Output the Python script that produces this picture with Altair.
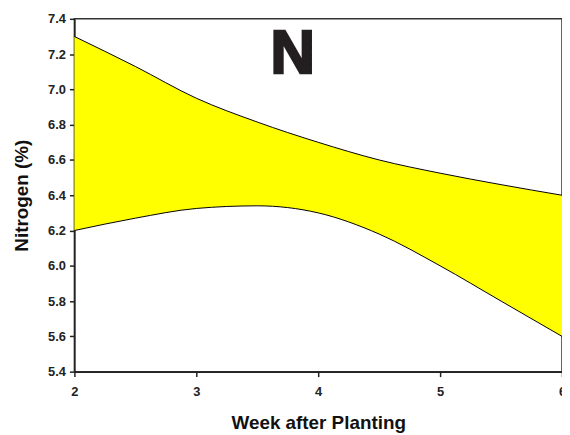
import altair as alt
import pandas as pd

weeks = [2, 2.5, 3, 3.5, 4, 4.5, 5, 5.5, 6]
n_upper = [7.30, 7.13, 6.95, 6.815, 6.70, 6.60, 6.525, 6.46, 6.40]
n_lower = [6.20, 6.27, 6.325, 6.34, 6.30, 6.18, 6.00, 5.80, 5.60]

label_text = ["N"]
label_x = [3.79]
label_y = [7.2]

df = pd.DataFrame({"week": weeks, "upper": n_upper, "lower": n_lower})
df_lab = pd.DataFrame({"week": label_x, "n": label_y, "t": label_text})

FONT = "Liberation Sans"

xscale = alt.Scale(domain=[2, 6], nice=False, zero=False)
yscale = alt.Scale(domain=[5.4, 7.4], nice=False, zero=False)
xaxis = alt.Axis(values=[2, 3, 4, 5, 6], format="d", title="Week after Planting",
                 grid=False, tickSize=5, labelPadding=9, titlePadding=15,
                 labelFlush=False, labelOverlap=False)
yaxis = alt.Axis(values=[5.4, 5.6, 5.8, 6.0, 6.2, 6.4, 6.6, 6.8, 7.0, 7.2, 7.4],
                 format=".1f", title="Nitrogen (%)", grid=False, tickSize=5,
                 labelPadding=4, titlePadding=16, labelFlush=False,
                 labelOverlap=False, tickCount=11)

area = alt.Chart(df).mark_area(color="#FFFF00", opacity=1, interpolate="monotone").encode(
    x=alt.X("week:Q", scale=xscale, axis=xaxis),
    y=alt.Y("upper:Q", scale=yscale, axis=yaxis),
    y2="lower:Q")
line_u = alt.Chart(df).mark_line(color="black", strokeWidth=1, interpolate="monotone").encode(
    x=alt.X("week:Q", scale=xscale, axis=xaxis),
    y=alt.Y("upper:Q", scale=yscale, axis=yaxis))
line_l = alt.Chart(df).mark_line(color="black", strokeWidth=1, interpolate="monotone").encode(
    x=alt.X("week:Q", scale=xscale, axis=xaxis),
    y=alt.Y("lower:Q", scale=yscale, axis=yaxis))
txt = alt.Chart(df_lab).mark_text(fontSize=62, fontWeight="bold", font=FONT, color="#231f20",
                                  stroke="#231f20", strokeWidth=2.5,
                                  baseline="middle", align="center").encode(
    x=alt.X("week:Q", scale=xscale, axis=xaxis),
    y=alt.Y("n:Q", scale=yscale, axis=yaxis),
    text="t:N")

chart = (area + line_u + line_l + txt).properties(
    width=492, height=356,
    autosize=alt.AutoSizeParams(type="none"),
    padding={"left": 67, "top": 9, "right": 0, "bottom": 62},
).configure_view(stroke="#333333", strokeWidth=1.5).configure_axis(
    labelFont=FONT, titleFont=FONT, labelFontSize=13, labelFontWeight="bold",
    titleFontSize=19, titleFontWeight="bold", labelColor="#222222", titleColor="#111111",
    domainColor="#222222", tickColor="#222222", domainWidth=1.5, tickWidth=1.5
)

chart.save("out.html", embed_options={"renderer": "svg", "actions": False})
